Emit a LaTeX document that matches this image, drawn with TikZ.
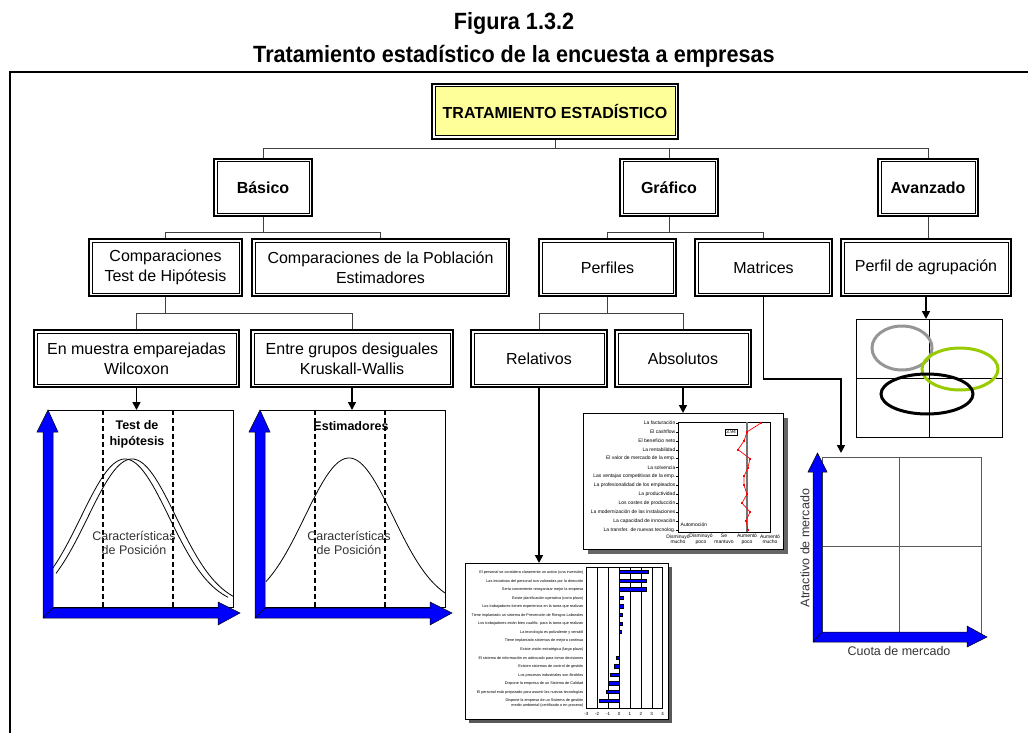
\documentclass[tikz,border=0pt]{standalone}
\usepackage{fontspec}
\setmainfont{Liberation Sans}
\newfontfamily\titlefont[FakeStretch=0.92]{Liberation Sans}
\usetikzlibrary{arrows.meta,positioning,calc}
\definecolor{paleyellow}{RGB}{255,255,153}
\definecolor{chartblue}{RGB}{0,0,255}
\definecolor{limegreen}{RGB}{153,204,0}
\definecolor{midgray}{RGB}{150,150,150}
\tikzset{
  box/.style={draw,line width=1pt,fill=white,align=center,inner sep=0pt,outer sep=4pt,font=\fontsize{16}{20}\selectfont},
  boldbox/.style={box,font=\fontsize{16}{20}\selectfont\bfseries},
  rim/.style={line width=2.4pt},
  tree/.style={draw=black!75,line width=0.8pt},
  arr/.style={-{Triangle[length=8pt,width=8pt]},line width=1.6pt},
  bluearrow/.style={fill=chartblue,draw=black,line width=0.5pt,line join=miter},
  titletxt/.style={font=\titlefont\fontsize{23.5}{28}\selectfont\bfseries},
  chartlbl/.style={font=\fontsize{12.5}{14}\selectfont,text=black!80,align=center,inner sep=0pt},
  charthead/.style={font=\fontsize{12.5}{16}\selectfont\bfseries,align=center,inner sep=0pt},
  tinytxt/.style={font=\fontsize{5}{5.6}\selectfont,inner sep=0.5pt},
  microtxt/.style={font=\fontsize{3.8}{4.4}\selectfont,inner sep=0.5pt},
}

\begin{document}
\begin{tikzpicture}[x=1pt,y=-1pt]
  \useasboundingbox (0,0) rectangle (1028,733);
  % titulo y marco
  \node[titletxt] (fig) at (514,23) {Figura 1.3.2};
  \node[titletxt] (tit) at (514,56) {Tratamiento estadístico de la encuesta a empresas};
  \draw[line width=2pt] (1028,72) -- (10,72) -- (10,733);

  % arbol de cajas
  \node[boldbox,fill=paleyellow,minimum width=240pt,minimum height=49pt] (trat) at (555,111.5) {TRATAMIENTO ESTADÍSTICO};
  \node[boldbox,minimum width=92pt,minimum height=51pt] (basico) at (263,187.5) {Básico};
  \node[boldbox,minimum width=92pt,minimum height=51pt] (grafico) at (669,187.5) {Gráfico};
  \node[boldbox,minimum width=94pt,minimum height=51pt] (avanzado) at (928,187.5) {Avanzado};
  \node[box,minimum width=147pt,minimum height=51pt] (comp) at (165.5,267.5) {Comparaciones\\Test de Hipótesis};
  \node[box,minimum width=251pt,minimum height=51pt] (pobl) at (380.5,267.5) {Comparaciones de la Población\\Estimadores};
  \node[box,minimum width=131pt,minimum height=51pt] (perfiles) at (607.5,267.5) {Perfiles};
  \node[box,minimum width=131pt,minimum height=51pt] (matrices) at (763.5,267.5) {Matrices};
  \node[box,minimum width=164pt,minimum height=51pt] (agrup) at (926,267.5) {Perfil de agrupación};
  \node[box,minimum width=199pt,minimum height=51pt] (wilcoxon) at (136.5,358.5) {En muestra emparejadas\\Wilcoxon};
  \node[box,minimum width=196pt,minimum height=51pt] (kruskal) at (352,358.5) {Entre grupos desiguales\\Kruskall-Wallis};
  \node[box,minimum width=130pt,minimum height=51pt] (relativos) at (539,358.5) {Relativos};
  \node[box,minimum width=130pt,minimum height=51pt] (absolutos) at (683,358.5) {Absolutos};
  \foreach \n in {trat,basico,grafico,avanzado,comp,pobl,perfiles,matrices,agrup,wilcoxon,kruskal,relativos,absolutos}
    \draw[rim] ([shift={(1pt,-1pt)}]\n.north west) rectangle ([shift={(-1pt,1pt)}]\n.south east);

  \draw[tree] (trat.south) -- ++(0,8) coordinate (t0) -| (basico.north);
  \draw[tree] (t0) -| (grafico.north);
  \draw[tree] (t0) -| (avanzado.north);
  \draw[tree] (basico.south) -- ++(0,15) coordinate (t1) -| (comp.north);
  \draw[tree] (t1) -| (pobl.north);
  \draw[tree] (grafico.south) -- ++(0,15) coordinate (t2) -| (perfiles.north);
  \draw[tree] (t2) -| (matrices.north);
  \draw[tree] (avanzado.south) -- (avanzado.south |- agrup.north);
  \draw[tree] (comp.south) -- ++(0,16) coordinate (t3) -| (wilcoxon.north);
  \draw[tree] (t3) -| (kruskal.north);
  \draw[tree] (perfiles.south) -- ++(0,16) coordinate (t4) -| (relativos.north);
  \draw[tree] (t4) -| (absolutos.north);

  % flechas hacia los graficos
  \coordinate (hiptop) at (136.5,410);
  \coordinate (esttop) at (352,410);
  \coordinate (reltop) at (539,563);
  \coordinate (abstop) at (683,413);
  \coordinate (mattop) at (841,453);
  \coordinate (agrtop) at (926,319);
  \draw[arr] (wilcoxon.south) -- (hiptop);
  \draw[arr] (kruskal.south) -- (esttop);
  \draw[arr] (relativos.south) -- (reltop);
  \draw[arr] (absolutos.south) -- (abstop);
  \draw[arr] (matrices.south) -- ++(0,82) -| (mattop);
  \draw[arr] (agrup.south) -- (agrtop);

  % graficos de campana
  \foreach \dx/\cx in {0/134,212/349}{
    \begin{scope}[xshift=\dx pt]
      \draw[line width=0.8pt] (48,410) rectangle (233,607);
      \draw[line width=1.8pt,dash pattern=on 5pt off 3pt] (103,410) -- (103,607);
      \draw[line width=1.8pt,dash pattern=on 5pt off 3pt] (173,410) -- (173,607);
    \end{scope}
    \node[chartlbl] at (\cx,543) {Características\\de Posición};
  }
  \draw[line width=0.8pt,domain=53:228,samples=90,smooth] plot (\x,{607-148*exp(-((\x-125)^2)/3900)});
  \draw[line width=0.8pt,domain=56:233,samples=90,smooth] plot (\x,{607-148*exp(-((\x-132)^2)/3900)});
  \draw[line width=0.8pt,domain=266:445,samples=90,smooth] plot (\x,{607-149*exp(-((\x-349)^2)/3900)});
  \node[charthead] at (137,434) {Test de\\hipótesis};
  \node[charthead] at (351,426) {Estimadores};
  \foreach \dx in {0,212}{
    \begin{scope}[xshift=\dx pt]
      \draw[bluearrow] (43,618) -- (43,432) -- (37,432) -- (48,410) -- (58,432) -- (53,432) -- (53,608)
        -- (218,608) -- (218,602) -- (240,613) -- (218,625) -- (218,618) -- cycle;
      \draw[line width=0.5pt] (43,618) -- (53,608);
    \end{scope}
  }

  % perfil absoluto
  \fill[black!60] (588,418) rectangle (788,554);
  \draw[fill=white,line width=0.6pt] (583,413) rectangle (783,549);
  \draw[line width=0.5pt] (678,422) rectangle (770,532);
  \draw[black!55,line width=2pt] (747,422) -- (747,532);
  \foreach \t [count=\i from 0] in {La facturación,El cashflow,El beneficio neto,La rentabilidad,
      El valor de mercado de la emp.,La solvencia,Las ventajas competitivas de la emp.,
      La profesionalidad de los empleados,La productividad,Los costes de producción,
      La modernización de las instalaciones,La capacidad de innovación,La transfer. de nuevas tecnolog.}{
    \node[tinytxt,anchor=east] at (676,{423+8.9*\i}) {\t};
    \draw[line width=0.3pt] (676,{423+8.9*\i}) -- (678,{423+8.9*\i});
  }
  \draw[red,line width=0.7pt] plot coordinates {(761,423) (747,431.9) (744,440.8) (738,449.7) (750,458.6) (748,467.5)
    (744,476.4) (744,485.3) (747,494.2) (742,503.1) (750,512) (746,520.9) (748,529.8)};
  \foreach \px [count=\i from 0] in {761,747,744,738,750,748,744,744,747,742,750,746,748}
    \fill[red] ({\px-1},{422+8.9*\i}) rectangle ++(2,2);
  \node[tinytxt,draw,line width=0.5pt,inner sep=1pt] at (731,432) {3.94};
  \node[tinytxt,anchor=west] at (680,525) {Automoción};
  \foreach \x/\a/\b in {678/Disminuyó/mucho,701/Disminuyó/poco,724/Se/mantuvo,747/Aumentó/poco,770/Aumentó/mucho}
    \node[tinytxt,align=center] at (\x,539) {\a\\\b};

  % perfil relativo
  \fill[black!65] (469,567) rectangle (672,723);
  \draw[fill=white,line width=0.6pt] (465,563) rectangle (668,719);
  \draw[line width=0.5pt] (586.3,567) rectangle (662.6,708);
  \foreach \v in {-2,...,3}
    \draw[line width=0.4pt] ({619+10.9*\v},567) -- ({619+10.9*\v},708);
  \foreach \v in {-3,...,4}
    \node[microtxt,font=\fontsize{4.5}{5}\selectfont] at ({619+10.9*\v},714) {\v};
  \foreach \v/\t [count=\i from 0] in {2.7/El personal se considera claramente un activo (una inversión),
      2.5/Las iniciativas del personal son valoradas por la dirección,
      2.5/Sería conveniente reorganizar mejor la empresa,
      0.4/Existe planificación operativa (corto plazo),
      0.4/Los trabajadores tienen experiencia en la tarea que realizan,
      0.3/Tiene implantado un sistema de Prevención de Riesgos Laborales,
      0.25/Los trabajadores están bien cualific. para la tarea que realizan,
      0.2/La tecnología es polivalente y versátil,
      0.05/Tiene implantado sistemas de mejora continua,
      0.03/Existe visión estratégica (largo plazo),
      -0.3/El sistema de información es adecuado para tomar decisiones,
      -0.4/Existen sistemas de control de gestión,
      -0.8/Los procesos industriales son flexibles,
      -1.0/Dispone la empresa de un Sistema de Calidad,
      -1.2/El personal está preparado para asumir las nuevas tecnologías,
      -1.8/{Dispone la empresa de un Sistema de gestión\\medio ambiental (certificado o en proceso)}}{
    \draw[fill=chartblue,line width=0.3pt] (619,{570.4+8.55*\i}) rectangle ({619+10.9*\v},{573.6+8.55*\i});
    \node[microtxt,anchor=north east,align=right] at (584,{570+8.55*\i}) {\t};
  }

  % perfil de agrupacion
  \draw[line width=1pt] (856,319) rectangle (1002,437);
  \draw[line width=1pt] (929,319) -- (929,437);
  \draw[line width=1pt] (856,378) -- (1002,378);
  \draw[midgray,line width=3pt] (902,348) ellipse (30 and 22);
  \draw[limegreen,line width=3pt] (960,369) ellipse (38 and 21);
  \draw[black,line width=3pt] (927,394) ellipse (46 and 20);

  % matriz
  \draw[black!65,line width=0.8pt] (822,457) rectangle (981,633);
  \draw[black!65,line width=0.8pt] (899,457) -- (899,633);
  \draw[black!65,line width=0.8pt] (822,546) -- (981,546);
  \draw[bluearrow] (813,642) -- (813,472) -- (808,472) -- (817.5,453) -- (827,472) -- (822,472) -- (822,632)
    -- (967,632) -- (967,626) -- (987,637) -- (967,647) -- (967,642) -- cycle;
  \draw[line width=0.5pt] (813,642) -- (822,632);
  \node[chartlbl,rotate=90] at (805,548) {Atractivo de mercado};
  \node[chartlbl] at (899,651) {Cuota de mercado};
\end{tikzpicture}
\end{document}
